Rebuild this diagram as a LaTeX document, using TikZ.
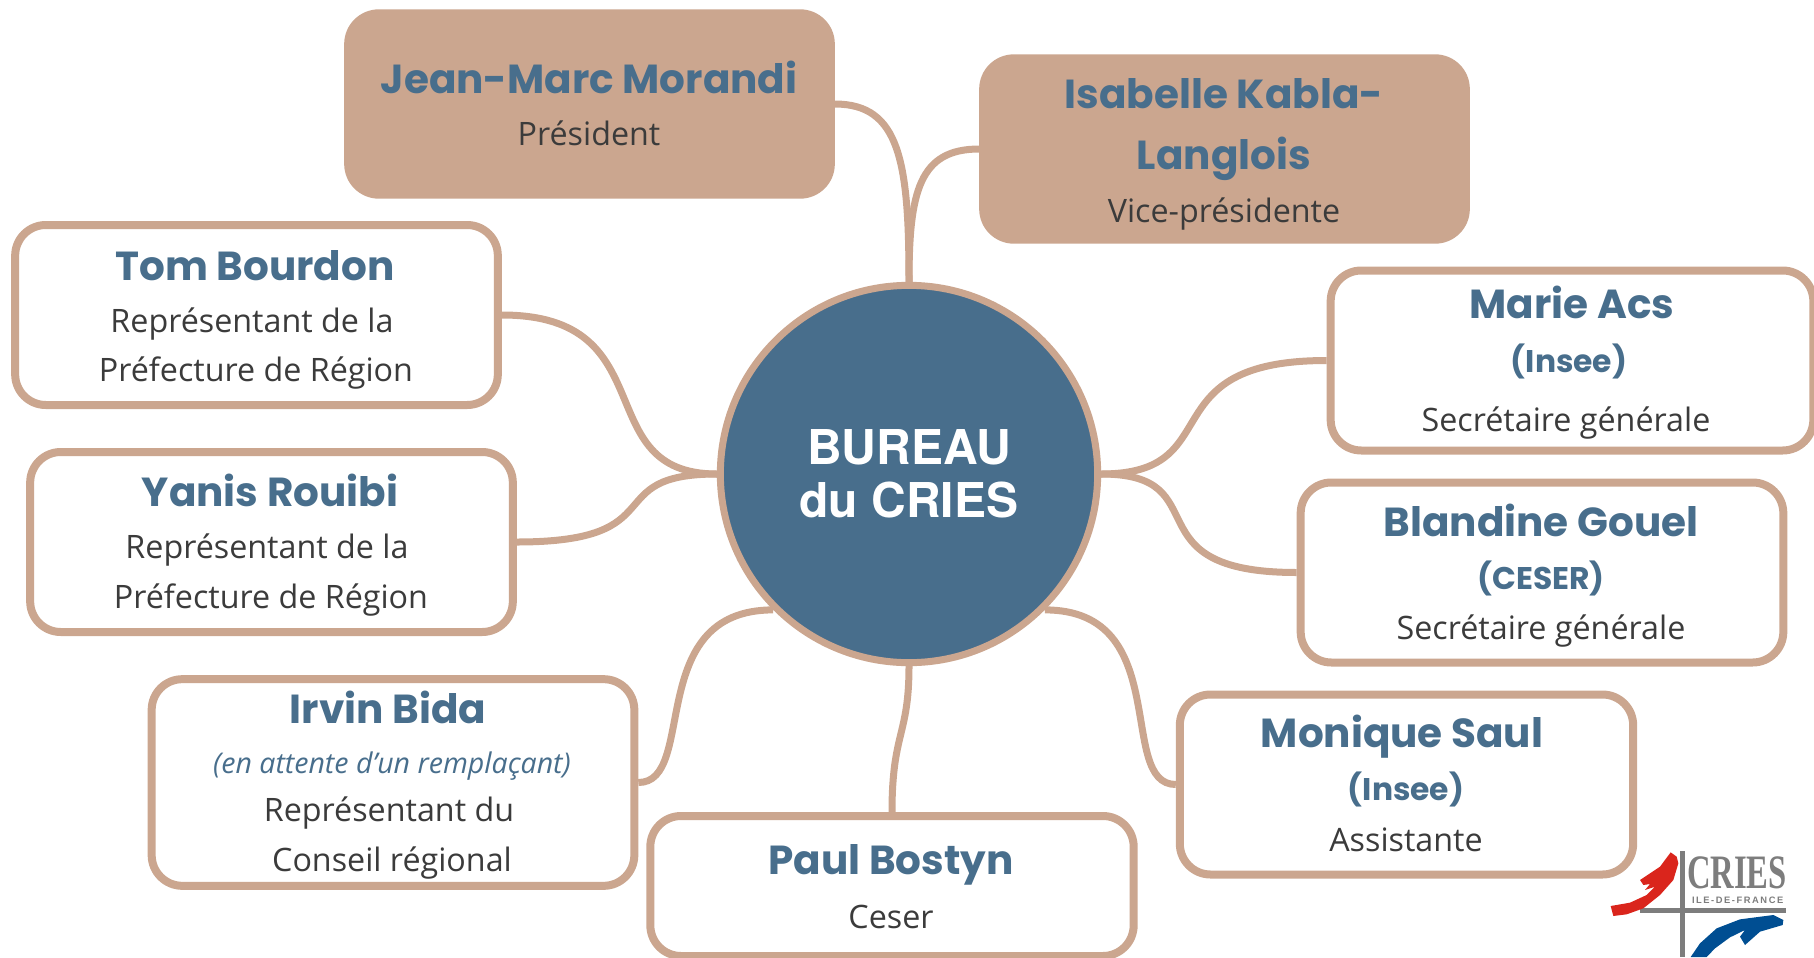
\documentclass[tikz,border=0pt]{standalone}
\usepackage{fontspec}
\setmainfont{Open Sans}
\newfontfamily\namefont{Poppins}
\newfontfamily\hubfont{TeX Gyre Heros}
\newfontfamily\logoserif{Liberation Serif}
\newfontfamily\logosans{Liberation Sans}
\definecolor{tanline}{RGB}{203,166,143}
\definecolor{bluedark}{RGB}{72,110,140}
\definecolor{textgrey}{RGB}{59,59,59}
\definecolor{logogrey}{RGB}{125,125,125}
\definecolor{logored}{RGB}{218,37,28}
\definecolor{logoblue}{RGB}{0,78,146}
\tikzset{every picture/.style={line width=0.75pt},
  hubnode/.style={circle,draw=tanline,fill=bluedark,line width=5.25pt,minimum size=283pt,inner sep=0pt},
  box/.style={rectangle,rounded corners=23pt,draw=tanline,line width=6pt,fill=white,inner sep=0pt},
  filledbox/.style={box,fill=tanline},
  link/.style={draw=tanline,line width=5.25pt},
  nametext/.style={anchor=base,inner sep=0pt,text=bluedark,font=\namefont\fontsize{30.4}{32}\selectfont\bfseries},
  subtext/.style={anchor=base,inner sep=0pt,text=bluedark,font=\namefont\fontsize{23.5}{25}\selectfont\bfseries},
  roletext/.style={anchor=base,inner sep=0pt,text=textgrey,font=\fontsize{24.2}{26}\selectfont},
  notetext/.style={anchor=base,inner sep=0pt,text=bluedark,font=\fontsize{21.4}{23}\selectfont\itshape},
  hubtext/.style={anchor=base,inner sep=0pt,text=white,font=\hubfont\fontsize{36}{37}\selectfont\bfseries}
}
\begin{document}
\begin{tikzpicture}[x=0.75pt,y=0.75pt,yscale=-1,xscale=1]
    \useasboundingbox (0,0) rectangle (1814,957);

    %Shape: Hub
    \node [hubnode] (hub) at (909,474) {};

    %Shape: Boxes
    \node [filledbox,minimum width=362pt,minimum height=136pt] (jean) at (589.5,104) {};
    \node [filledbox,minimum width=362pt,minimum height=136pt] (isabelle) at (1224.5,149) {};
    \node [box,minimum width=362pt,minimum height=135pt] (tom) at (256.5,315) {};
    \node [box,minimum width=362pt,minimum height=135pt] (yanis) at (271.5,542) {};
    \node [box,minimum width=362pt,minimum height=155pt] (irvin) at (393,782.5) {};
    \node [box,minimum width=362.5pt,minimum height=105pt] (paul) at (892,886) {};
    \node [box,minimum width=340pt,minimum height=135pt] (monique) at (1406.5,784.5) {};
    \node [box,minimum width=362pt,minimum height=135pt] (blandine) at (1542,572.5) {};
    \node [box,minimum width=362pt,minimum height=135pt] (marie) at (1572,360.5) {};

    %Shape: Links
    \draw [link] (jean.east) .. controls +(65,0) and +(0,-120) .. (hub.north);
    \draw [link] (isabelle.west) .. controls +(-60,0) and +(0,-90) .. (hub.north);
    \draw [link] (tom.east) .. controls +(165,0) and +(-130,0) .. (hub.west);
    \draw [link] (yanis.east) .. controls +(160,0) and +(-120,0) .. (hub.west);
    \draw [link] (irvin.east) .. controls +(60,0) and +(-130,0) .. (hub.-135);
    \draw [link] (paul.north) .. controls +(0,-80) and +(0,70) .. (hub.south);
    \draw [link] (monique.west) .. controls +(-60,0) and +(130,0) .. (hub.-45);
    \draw [link] (blandine.west) .. controls +(-170,0) and +(120,0) .. (hub.east);
    \draw [link] (marie.west) .. controls +(-180,0) and +(130,0) .. (hub.east);

    % Text Node
    \node [hubtext] (hubl1) at (909,464) {BUREAU};
    \node [hubtext] (hubl2) at (909,517) {du CRIES};
    % Text Node
    \node [nametext] (jeann) at (589,93) {Jean-Marc Morandi};
    \node [roletext] (jeanr) at (589,145) {Président};
    % Text Node
    \node [nametext] (isan1) at (1224,108) {Isabelle Kabla-};
    \node [nametext] (isan2) at (1224,169) {Langlois};
    \node [roletext] (isar) at (1224,222) {Vice-présidente};
    % Text Node
    \node [nametext] (tomn) at (255,280) {Tom Bourdon};
    \node [roletext] (tomr1) at (252,332) {Représentant de la};
    \node [roletext] (tomr2) at (256,381) {Préfecture de Région};
    % Text Node
    \node [nametext] (yanisn) at (270,506) {Yanis Rouibi};
    \node [roletext] (yanisr1) at (267,558) {Représentant de la};
    \node [roletext] (yanisr2) at (271,608) {Préfecture de Région};
    % Text Node
    \node [nametext] (irvinn) at (388,723) {Irvin Bida};
    \node [notetext] (irvint) at (392,773) {(en attente d’un remplaçant)};
    \node [roletext] (irvinr1) at (389,821) {Représentant du};
    \node [roletext] (irvinr2) at (392,871) {Conseil régional};
    % Text Node
    \node [nametext] (pauln) at (891,874) {Paul Bostyn};
    \node [roletext] (paulr) at (891,928) {Ceser};
    % Text Node
    \node [nametext] (moniquen) at (1402,747) {Monique Saul};
    \node [subtext] (moniques) at (1406,800) {(Insee)};
    \node [roletext] (moniquer) at (1406,851) {Assistante};
    % Text Node
    \node [nametext] (blandinen) at (1541,536) {Blandine Gouel};
    \node [subtext] (blandines) at (1541,589) {(CESER)};
    \node [roletext] (blandiner) at (1541,639) {Secrétaire générale};
    % Text Node
    \node [nametext] (marien) at (1572,318) {Marie Acs};
    \node [subtext] (maries) at (1569,372) {(Insee)};
    \node [roletext] (marier) at (1566,431) {Secrétaire générale};

    %Shape: Logo
    \begin{scope}[shift={(1560,820)},x=0.25pt,y=0.25pt]
      \draw [logogrey,line width=3.75pt] (368,93) -- (368,411);
      \draw [logogrey,line width=3.75pt] (240,270) -- (677,270);
      \fill [logored] (152,258) -- (160,288) -- (200,283) -- (250,265) -- (300,225) -- (340,180) -- (355,130) -- (350,110) -- (332,97) -- (300,140) -- (240,180) -- (250,195) -- (270,192) -- (255,210) -- (285,200) -- (260,225) -- (210,248) -- cycle;
      \fill [logoblue] (392,411) -- (420,370) -- (470,325) -- (540,298) -- (640,285) -- (670,300) -- (668,315) -- (600,335) -- (555,375) -- (540,350) -- (555,330) -- (510,352) -- (465,385) -- (440,411) -- cycle;
      \node [anchor=base,inner sep=0pt,text=logogrey,xscale=0.68,font=\logoserif\fontsize{36}{36}\selectfont\bfseries] (logotitle) at (531,205) {CRIES};
      \node [anchor=base,inner sep=0pt,text=logogrey,font=\logosans\fontsize{7}{7}\selectfont\bfseries] (logosub) at (533,250) {I\,L\,E\,-\,D\,E\,-\,F\,R\,A\,N\,C\,E};
    \end{scope}
\end{tikzpicture}
\end{document}
